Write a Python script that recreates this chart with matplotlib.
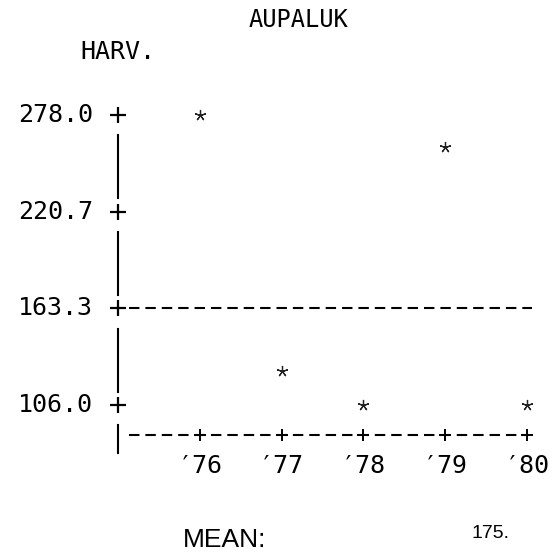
import matplotlib.pyplot as plt

# data
years = [76, 77, 78, 79, 80]
year_labels = ['′76', '′77', '′78', '′79', '′80']
harvest = [278, 126, 106, 259, 106]
yticks = [278.0, 220.7, 163.3, 106.0]
mean_value = 175
station = 'AUPALUK'

plt.rcParams['lines.scale_dashes'] = False
mono = 'DejaVu Sans Mono'

fig = plt.figure(figsize=(5.55, 5.59), dpi=100)
ax = fig.add_axes([0, 0, 1, 1])
ax.set_xlim(73.557, 80.342)
ax.set_ylim(14.7, 346.2)
ax.axis('off')

x0 = years[0] - 1      # left axis column
base = 88.5            # bottom axis row
dash = (0, (7.5, 4.3))

# vertical axis, broken around each '+'
for hi, lo in zip(yticks[:-1], yticks[1:]):
    ax.plot([x0, x0], [hi - 12, lo + 8], color='black', lw=1.5)
ax.plot([x0, x0], [yticks[-1] - 12, 77.6], color='black', lw=1.5)

# y ticks and labels
ax.plot([x0] * len(yticks), yticks, ls='none', marker='+', ms=11, mew=1.6, color='black')
for v in yticks:
    ax.annotate('%.1f' % v, (x0, v), xytext=(-18, 0), textcoords='offset points',
                ha='right', va='center', family=mono, size=18)

# middle dashed line and bottom axis
mid = yticks[2]
ax.plot([x0 + 0.13, years[-1] + 0.06], [mid, mid], color='black', lw=1.5, linestyle=dash)
ax.plot([x0 + 0.13, years[-1] + 0.03], [base, base], color='black', lw=1.5, linestyle=dash)
ax.plot(years, [base] * len(years), ls='none', marker='+', ms=9, mew=1.4, color='black')
for yr, lab in zip(years, year_labels):
    ax.annotate(lab, (yr, base), xytext=(0, -22.5), textcoords='offset points',
                ha='center', va='center', family=mono, size=18)

# harvest points
ax.plot(years, harvest, ls='none', marker=(5, 2, 0), ms=8, mew=0.9, color='#222222')

fig.text(0.538, 0.964, station, ha='center', va='center', family=mono, size=17)
fig.text(0.144, 0.907, 'HARV.', ha='left', va='center', family=mono, size=18)
fig.text(0.405, 0.034, 'MEAN:', ha='center', va='center', family='Liberation Sans', size=19)
fig.text(0.883, 0.0465, '%d.' % mean_value, ha='center', va='center',
         family='Liberation Sans', size=14)

fig.savefig('out.png', dpi=100)
